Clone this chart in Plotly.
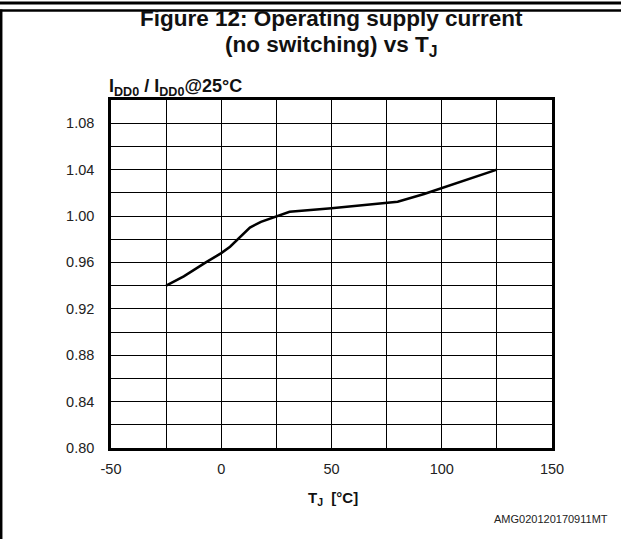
import plotly.graph_objects as go

# Data
tj = [-25, -17, -7, 0, 4, 8, 13, 18, 25, 31, 50, 75, 80, 92, 100, 113, 125]
ratio = [0.940, 0.948, 0.960, 0.968, 0.9735, 0.981, 0.990, 0.995, 1.000, 1.0037,
         1.0066, 1.011, 1.0123, 1.019, 1.024, 1.0325, 1.040]

x_tickvals = [-50, 0, 50, 100, 150]
x_ticktext = ["-50", "0", "50", "100", "150"]
x_minor = [-25, 25, 75, 125]
y_tickvals = [0.80, 0.84, 0.88, 0.92, 0.96, 1.00, 1.04, 1.08]
y_ticktext = ["0.80", "0.84", "0.88", "0.92", "0.96", "1.00", "1.04", "1.08"]

W, H = 621, 539
L, R, T, B = 111, 552, 100, 448

def px(x):
    return (x - L) / (R - L)

def py(y):
    return (B - y) / (B - T)

FONT = "Liberation Sans, Arial, sans-serif"

fig = go.Figure()
fig.add_trace(go.Scatter(x=tj, y=ratio, mode="lines",
                         line=dict(color="black", width=2.5), showlegend=False,
                         hoverinfo="skip"))

fig.update_layout(
    width=W, height=H,
    margin=dict(l=L, r=W - R, t=T, b=H - B, autoexpand=False),
    paper_bgcolor="white", plot_bgcolor="white",
    font=dict(family=FONT, color="#222"),
    xaxis=dict(range=[-50, 150], tickvals=x_tickvals, ticktext=x_ticktext,
               showgrid=True, gridcolor="black", gridwidth=1,
               minor=dict(tickvals=x_minor, showgrid=True,
                          gridcolor="black", gridwidth=1),
               showline=True, linecolor="black", linewidth=2.5, mirror=True,
               zeroline=False, ticks="", ticklabelstandoff=6,
               tickfont=dict(size=14.5, color="#222")),
    yaxis=dict(range=[0.80, 1.10], tickvals=y_tickvals, ticktext=y_ticktext,
               showgrid=True, gridcolor="black", gridwidth=1,
               minor=dict(dtick=0.02, tick0=0.8, showgrid=True,
                          gridcolor="black", gridwidth=1),
               showline=True, linecolor="black", linewidth=2.5, mirror=True,
               zeroline=False, ticks="", ticklabelstandoff=11,
               tickfont=dict(size=14.5, color="#222")),
)

# Titles and labels
fig.add_annotation(x=px(331), y=py(19), xref="paper", yref="paper",
                   text="<b>Figure 12: Operating supply current</b>",
                   showarrow=False, font=dict(size=22.5, color="#111", family=FONT),
                   xanchor="center", yanchor="middle")
fig.add_annotation(x=px(331), y=py(46), xref="paper", yref="paper",
                   text="<b>(no switching) vs T<sub>J</sub></b>",
                   showarrow=False, font=dict(size=22.5, color="#111", family=FONT),
                   xanchor="center", yanchor="middle")
fig.add_annotation(x=px(107), y=py(88), xref="paper", yref="paper",
                   text="<b>I<sub>DD0</sub> / I<sub>DD0</sub>@25°C</b>",
                   showarrow=False, font=dict(size=18, color="#111", family=FONT),
                   xanchor="left", yanchor="middle")
fig.add_annotation(x=px(333), y=py(498), xref="paper", yref="paper",
                   text="<b>T<sub>J</sub>  [°C]</b>",
                   showarrow=False, font=dict(size=15, color="#111", family=FONT),
                   xanchor="center", yanchor="middle")
fig.add_annotation(x=px(610), y=py(519), xref="paper", yref="paper",
                   text="AMG020120170911MT",
                   showarrow=False, font=dict(size=11, color="#222", family=FONT),
                   xanchor="right", yanchor="middle")

# Page frame lines
fig.add_shape(type="line", xref="paper", yref="paper", layer="above",
              x0=px(0), x1=px(W), y0=py(3), y1=py(3),
              line=dict(color="black", width=3))
fig.add_shape(type="line", xref="paper", yref="paper", layer="above",
              x0=px(0), x1=px(W), y0=py(10.5), y1=py(10.5),
              line=dict(color="black", width=2.5))
fig.add_shape(type="line", xref="paper", yref="paper", layer="above",
              x0=px(1.2), x1=px(1.2), y0=py(9.5), y1=py(H),
              line=dict(color="black", width=2.5))

fig.write_html("out.html",
               config={"displayModeBar": False},
               post_script="document.body.style.margin='0';")
